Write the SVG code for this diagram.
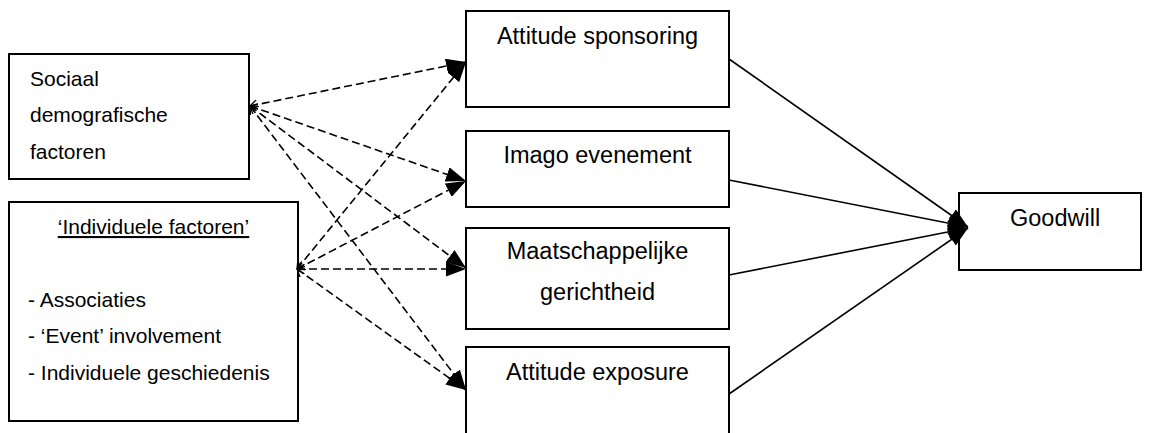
<svg xmlns="http://www.w3.org/2000/svg" width="1151" height="433" viewBox="0 0 1151 433">
  <style>
    .box { fill: #fff; stroke: #000; stroke-width: 2; }
    .t { font-family: "Liberation Sans", Arial, sans-serif; fill: #000; }
    .ls { font-size: 21px; }
    .rs { font-size: 23.5px; text-anchor: middle; }
    .dash { fill: none; stroke: #000; stroke-width: 1.6; stroke-dasharray: 8 4; marker-end: url(#head); marker-start: url(#chev); }
    .solid { fill: none; stroke: #000; stroke-width: 1.6; marker-end: url(#head); }
  </style>
  <defs>
    <marker id="head" viewBox="0 0 20 15" refX="20" refY="7.5" markerWidth="20" markerHeight="15" markerUnits="userSpaceOnUse" orient="auto">
      <path d="M0,0 L20,7.5 L0,15 z" fill="#000"/>
    </marker>
    <marker id="chev" viewBox="0 0 8 10" refX="7.5" refY="5" markerWidth="8" markerHeight="10" markerUnits="userSpaceOnUse" orient="auto-start-reverse">
      <path d="M0,0 L7.5,5 L0,10" fill="none" stroke="#000" stroke-width="1.3"/>
    </marker>
  </defs>

  <g id="sociaal">
    <rect class="box" x="9" y="54" width="240" height="125"/>
    <text class="t ls" x="30" y="86">Sociaal</text>
    <text class="t ls" x="30" y="122">demografische</text>
    <text class="t ls" x="30" y="159">factoren</text>
  </g>

  <g id="individueel">
    <rect class="box" x="9" y="202" width="289" height="219"/>
    <text class="t ls" x="153.5" y="234" text-anchor="middle" text-decoration="underline">‘Individuele factoren’</text>
    <text class="t ls" x="28" y="307">- Associaties</text>
    <text class="t ls" x="28" y="343">- ‘Event’ involvement</text>
    <text class="t ls" x="28" y="380">- Individuele geschiedenis</text>
  </g>

  <g id="attitude-sponsoring">
    <rect class="box" x="466" y="11" width="263" height="96"/>
    <text class="t rs" x="597.5" y="44">Attitude sponsoring</text>
  </g>

  <g id="imago">
    <rect class="box" x="466" y="131" width="263" height="76"/>
    <text class="t rs" x="597.5" y="163">Imago evenement</text>
  </g>

  <g id="maatschappelijk">
    <rect class="box" x="466" y="228" width="263" height="101"/>
    <text class="t rs" x="597.5" y="259">Maatschappelijke</text>
    <text class="t rs" x="597.5" y="300">gerichtheid</text>
  </g>

  <g id="attitude-exposure">
    <rect class="box" x="466" y="347" width="263" height="100"/>
    <text class="t rs" x="597.5" y="380">Attitude exposure</text>
  </g>

  <g id="goodwill">
    <rect class="box" x="959" y="193" width="182" height="77"/>
    <text class="t" x="1010" y="226" font-size="23.5">Goodwill</text>
  </g>

  <g id="connectors">
    <line class="dash" x1="250" y1="106" x2="466" y2="62"/>
    <line class="dash" x1="250" y1="106" x2="466" y2="181"/>
    <line class="dash" x1="250" y1="106" x2="466" y2="268"/>
    <line class="dash" x1="250" y1="106" x2="466" y2="390"/>
    <line class="dash" x1="297" y1="269" x2="466" y2="62"/>
    <line class="dash" x1="297" y1="269" x2="466" y2="181"/>
    <line class="dash" x1="297" y1="269" x2="466" y2="269"/>
    <line class="dash" x1="297" y1="269" x2="466" y2="390"/>
    <line class="solid" x1="729" y1="59" x2="968" y2="227"/>
    <line class="solid" x1="729" y1="180" x2="968" y2="227"/>
    <line class="solid" x1="729" y1="275" x2="968" y2="228"/>
    <line class="solid" x1="729" y1="394" x2="968" y2="228"/>
  </g>
</svg>
